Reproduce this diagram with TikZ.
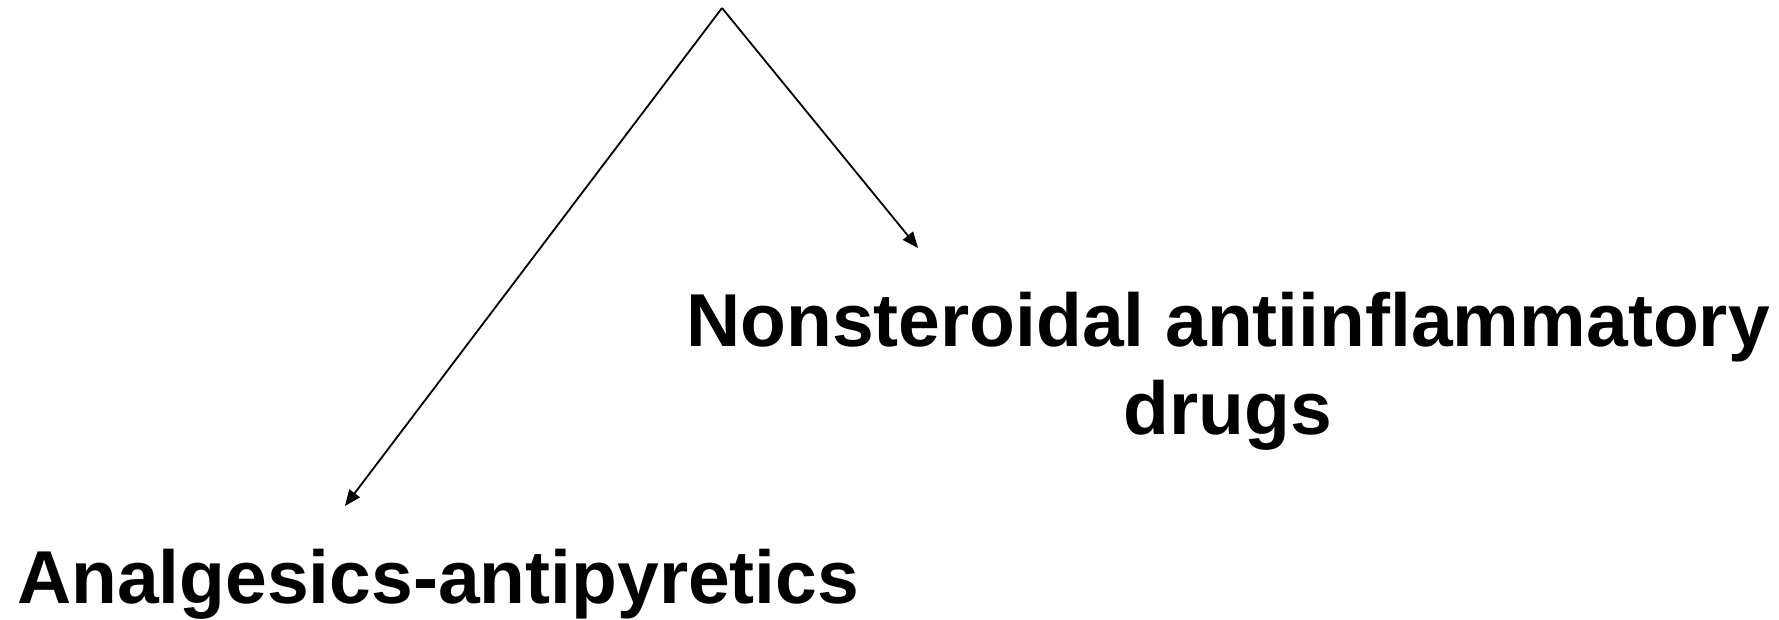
\documentclass[tikz,border=0pt]{standalone}
\usepackage{fontspec}
\setmainfont{Liberation Sans}
\usetikzlibrary{arrows.meta}
\begin{document}
\begin{tikzpicture}[x=1pt,y=1pt,
  lbl/.style={font=\fontsize{75}{88}\selectfont\bfseries, inner sep=0pt, align=center},
  arr/.style={line width=1.8pt, -{Triangle[length=16pt,width=13pt]}}]
\useasboundingbox (0,0) rectangle (1779,619);
\coordinate (top) at (722,611);
\coordinate (tipR) at (918,371);
\coordinate (tipL) at (345,113);
\node[lbl, anchor=base west] (ana) at (17,16) {Analgesics-antipyretics};
\node[lbl, anchor=north] (nsaid) at (1228,327) {Nonsteroidal antiinflammatory\\drugs};
\draw[arr] (top) -- (tipR);
\draw[arr] (top) -- (tipL);
\end{tikzpicture}
\end{document}
